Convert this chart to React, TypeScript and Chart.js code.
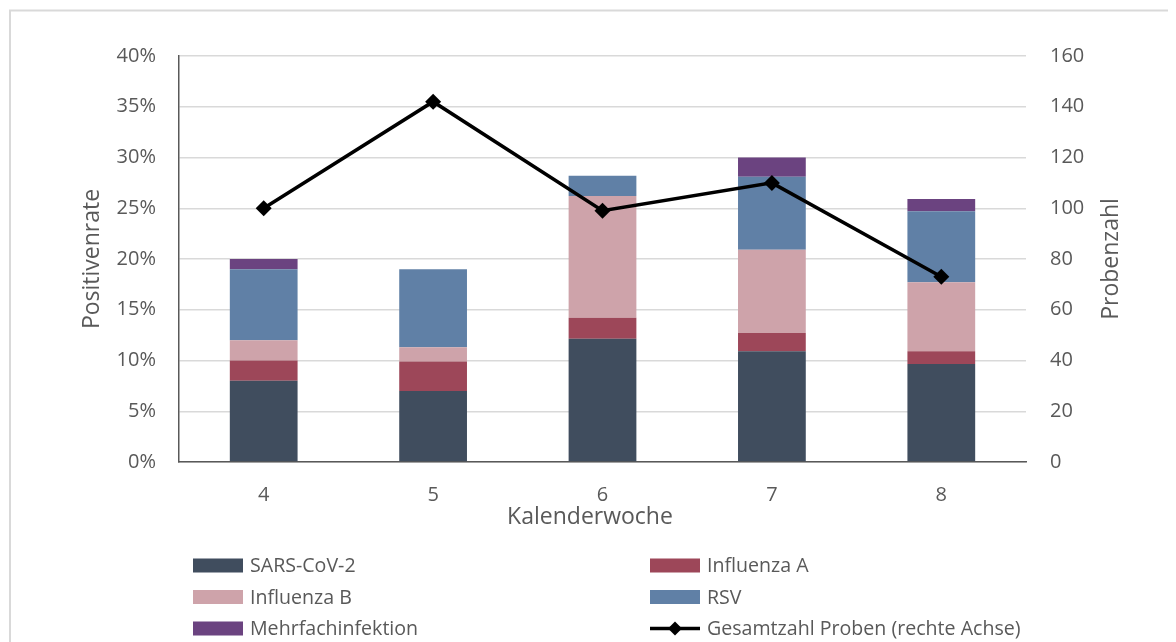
import React, { useEffect, useRef } from "react";
import { Chart, registerables } from "chart.js";

Chart.register(...registerables);

const weeks = ["4", "5", "6", "7", "8"];
const sarsCoV2 = [8, 7, 12.15, 10.9, 9.65];
const influenzaA = [2, 2.9, 2.05, 1.8, 1.25];
const influenzaB = [2, 1.4, 12.0, 8.2, 6.8];
const rsv = [7, 7.7, 2.0, 7.2, 7.0];
const mehrfach = [1, 0, 0, 1.9, 1.2];
const probenzahl = [100, 142, 99, 110, 73];

const leftTicks = [0, 5, 10, 15, 20, 25, 30, 35, 40];
const rightTicks = [0, 20, 40, 60, 80, 100, 120, 140, 160];

const TEXT = "#595959";
const FONT = "'Open Sans', sans-serif";

const decorPlugin = {
  id: "decor",
  beforeDraw(chart: any) {
    const ctx = chart.ctx;
    ctx.save();
    ctx.strokeStyle = "#d9d9d9";
    ctx.lineWidth = 2;
    ctx.strokeRect(2, 2.5, 1400, 900);
    ctx.restore();
  },
  afterDraw(chart: any) {
    const ctx = chart.ctx;
    const ca = chart.chartArea;
    ctx.save();
    ctx.fillStyle = TEXT;
    ctx.font = `23px ${FONT}`;
    // right axis title, reading bottom to top
    ctx.save();
    ctx.translate(1103, (ca.top + ca.bottom) / 2);
    ctx.rotate(-Math.PI / 2);
    ctx.textAlign = "center";
    ctx.textBaseline = "middle";
    ctx.fillText("Probenzahl", 0, 0);
    ctx.restore();
    // x axis title
    ctx.textAlign = "center";
    ctx.textBaseline = "middle";
    ctx.fillText("Kalenderwoche", 582, 509);

    // legend in two columns
    ctx.font = `19.6px ${FONT}`;
    const ds = chart.data.datasets;
    const order = [0, 1, 2, 3, 4, 5];
    const cols = [185, 642];
    const rows = [557.5, 589, 620.5];
    ctx.textAlign = "left";
    order.forEach((di, i) => {
      const d = ds[di];
      const x = cols[i % 2];
      const y = rows[Math.floor(i / 2)];
      if (d.type === "line") {
        ctx.strokeStyle = "#000";
        ctx.lineWidth = 3.5;
        ctx.beginPath();
        ctx.moveTo(x, y);
        ctx.lineTo(x + 50, y);
        ctx.stroke();
        ctx.fillStyle = "#000";
        ctx.beginPath();
        ctx.moveTo(x + 25, y - 7);
        ctx.lineTo(x + 32, y);
        ctx.lineTo(x + 25, y + 7);
        ctx.lineTo(x + 18, y);
        ctx.closePath();
        ctx.fill();
      } else {
        ctx.fillStyle = d.backgroundColor;
        ctx.fillRect(x, y - 7, 50, 14);
      }
      ctx.fillStyle = TEXT;
      ctx.fillText(d.label, x + 57, y + 1);
    });
    ctx.restore();
  },
};

export default function App() {
  const ref = useRef<HTMLCanvasElement>(null);
  useEffect(() => {
    if (!ref.current) return;
    Chart.defaults.font.family = FONT;
    Chart.defaults.color = TEXT;
    const bar = (label: string, data: number[], color: string) => ({
      type: "bar" as const,
      label,
      data,
      backgroundColor: color,
      borderWidth: 0,
      yAxisID: "y",
      stack: "s",
      order: 1,
      barPercentage: 1,
      categoryPercentage: 0.4,
    });
    const chart = new Chart(ref.current, {
      type: "bar",
      data: {
        labels: weeks,
        datasets: [
          bar("SARS-CoV-2", sarsCoV2, "#404d5e"),
          bar("Influenza A", influenzaA, "#9d4759"),
          bar("Influenza B", influenzaB, "#cea3aa"),
          bar("RSV", rsv, "#6080a6"),
          bar("Mehrfachinfektion", mehrfach, "#6b4380"),
          {
            type: "line" as const,
            label: "Gesamtzahl Proben (rechte Achse)",
            data: probenzahl,
            borderColor: "#000",
            backgroundColor: "#000",
            borderWidth: 3.5,
            pointStyle: "rectRot",
            pointRadius: 8,
            pointBackgroundColor: "#000",
            pointBorderWidth: 0,
            yAxisID: "y1",
            order: 0,
            tension: 0,
          } as any,
        ],
      },
      plugins: [decorPlugin],
      options: {
        animation: false,
        responsive: true,
        maintainAspectRatio: false,
        layout: { padding: { top: 48, bottom: 110, left: 0, right: 0 } },
        plugins: { legend: { display: false }, tooltip: { enabled: false } },
        scales: {
          x: {
            stacked: true,
            grid: { display: false, drawTicks: false },
            border: { display: true, color: "#595959", width: 1.5 },
            ticks: { padding: 21, font: { size: 20 }, color: TEXT },
            afterFit: (s: any) => {
              s.height = 70;
            },
          },
          y: {
            position: "left",
            stacked: true,
            min: 0,
            max: 40,
            afterBuildTicks: (s: any) => {
              s.ticks = leftTicks.map((v) => ({ value: v }));
            },
            grid: { color: "#d9d9d9", lineWidth: 1.5, drawTicks: false },
            border: { display: true, color: "#595959", width: 1.5 },
            ticks: {
              padding: 23,
              font: { size: 20 },
              color: TEXT,
              callback: (v: any) => `${v}%`,
            },
            title: {
              display: true,
              text: "Positivenrate",
              font: { size: 23 },
              color: TEXT,
              padding: { top: 70.5, bottom: 0 },
            },
            afterFit: (s: any) => {
              s.width = 171;
            },
          },
          y1: {
            position: "right",
            min: 0,
            max: 160,
            afterBuildTicks: (s: any) => {
              s.ticks = rightTicks.map((v) => ({ value: v }));
            },
            grid: { display: false, drawTicks: false },
            border: { display: false },
            ticks: { padding: 24, font: { size: 20 }, color: TEXT },
            afterFit: (s: any) => {
              s.width = 142;
            },
          },
        },
      } as any,
    });
    return () => chart.destroy();
  }, []);
  return (
    <div style={{ width: 1160, height: 634, position: "relative" }}>
      <canvas ref={ref} />
    </div>
  );
}
